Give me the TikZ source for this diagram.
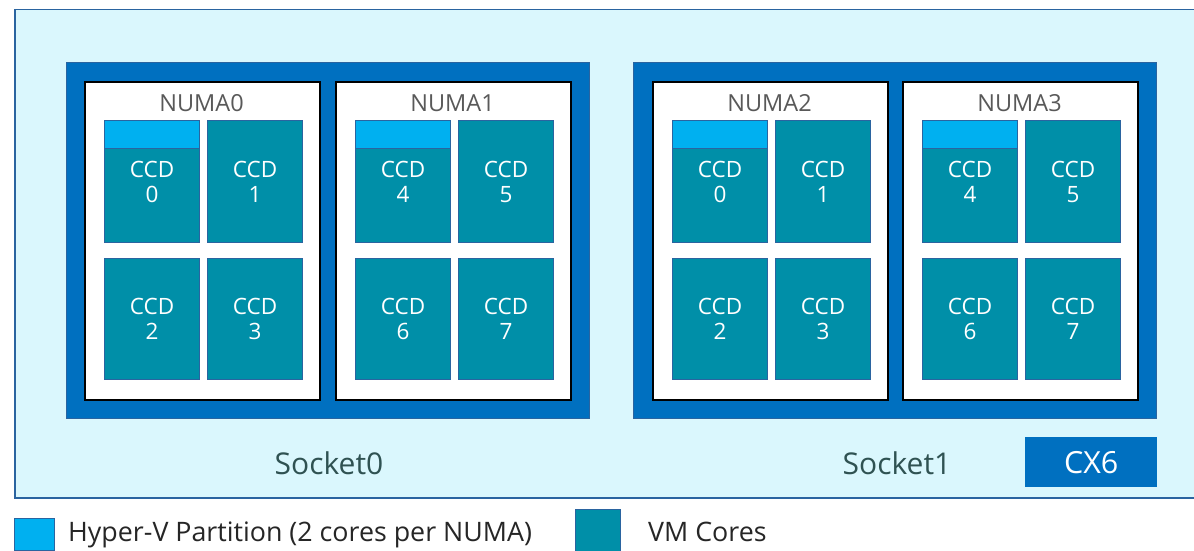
\documentclass[tikz,border=0pt]{standalone}
\usepackage{fontspec}
\setmainfont{Open Sans}
\definecolor{bglight}{HTML}{DAF7FD}
\definecolor{sockblue}{HTML}{0070C0}
\definecolor{edgeblue}{HTML}{2A64A0}
\definecolor{ccdteal}{HTML}{008FA8}
\definecolor{hvblue}{HTML}{00B0F0}
\definecolor{numagray}{HTML}{595959}
\definecolor{socktext}{HTML}{2F5252}
\begin{document}
\begin{tikzpicture}[x=1pt,y=-1pt,
  outerbox/.style={draw=edgeblue,line width=1.5pt,fill=bglight,anchor=north west,inner sep=0pt},
  sockbox/.style={draw=edgeblue,line width=0.8pt,fill=sockblue,anchor=north west,inner sep=0pt,minimum width=523pt,minimum height=356pt},
  numabox/.style={draw=black,line width=2pt,fill=white,anchor=north west,inner sep=0pt,minimum width=235pt,minimum height=318pt},
  numalabel/.style={text=numagray,font=\fontsize{23.5}{26}\selectfont,inner sep=0pt},
  ccdbox/.style={draw=edgeblue,line width=1.2pt,fill=ccdteal,anchor=north west,inner sep=0pt,minimum width=95pt,minimum height=122pt,text=white,align=center,font=\fontsize{22.5}{25}\selectfont},
  hvbox/.style={draw=edgeblue,line width=1.2pt,fill=hvblue,anchor=north west,inner sep=0pt,minimum width=95pt,minimum height=28pt},
  socklabel/.style={text=socktext,font=\fontsize{30}{33}\selectfont,inner sep=0pt},
  cxbox/.style={fill=sockblue,text=white,font=\fontsize{30.5}{33}\selectfont,anchor=north west,inner sep=0pt,minimum width=132pt,minimum height=50pt},
  legtext/.style={text=black!85,font=\fontsize{26.8}{30}\selectfont,inner sep=0pt,anchor=west}
]
\useasboundingbox (0,0) rectangle (1194,551);
\fill[white] (0,0) rectangle (1194,551);
% outer frame
\node[outerbox,minimum width=1190pt,minimum height=488pt] (outer) at (14,9) {};
% sockets
\node[sockbox] (s0) at (66,62) {};
\node[sockbox] (s1) at (633,62) {};
% NUMA nodes with CCDs
\foreach \n/\x/\s in {0/84/0,1/335/4,2/652/0,3/902/4}{
  \node[numabox] (n\n) at (\x,81) {};
  \node[numalabel] (nl\n) at (\x+117.5,103) {NUMA\n};
  \pgfmathtruncatemacro{\a}{\s}
  \pgfmathtruncatemacro{\b}{\s+1}
  \pgfmathtruncatemacro{\c}{\s+2}
  \pgfmathtruncatemacro{\d}{\s+3}
  \node[ccdbox] (c\n a) at (\x+20,120) {CCD\\\a};
  \node[ccdbox] (c\n b) at (\x+123,120) {CCD\\\b};
  \node[ccdbox,minimum height=121pt] (c\n c) at (\x+20,258) {CCD\\\c};
  \node[ccdbox,minimum height=121pt] (c\n d) at (\x+123,258) {CCD\\\d};
  \node[hvbox] (hv\n) at (\x+20,120) {};
}
% socket labels
\node[socklabel] (sl0) at (329,463) {Socket0};
\node[socklabel] (sl1) at (897,463) {Socket1};
\node[cxbox] (cx6) at (1025,437) {CX6};
% legend
\node[draw=edgeblue,line width=1pt,fill=hvblue,anchor=north west,inner sep=0pt,minimum width=40pt,minimum height=32pt] (leghv) at (14,518) {};
\node[legtext] (leghvt) at (68,535) {Hyper-V Partition (2 cores per NUMA)};
\node[draw=edgeblue,line width=1pt,fill=ccdteal,anchor=north west,inner sep=0pt,minimum width=45pt,minimum height=44pt] (legvm) at (575,509) {};
\node[legtext] (legvmt) at (648,532) {VM Cores};
\end{tikzpicture}
\end{document}
